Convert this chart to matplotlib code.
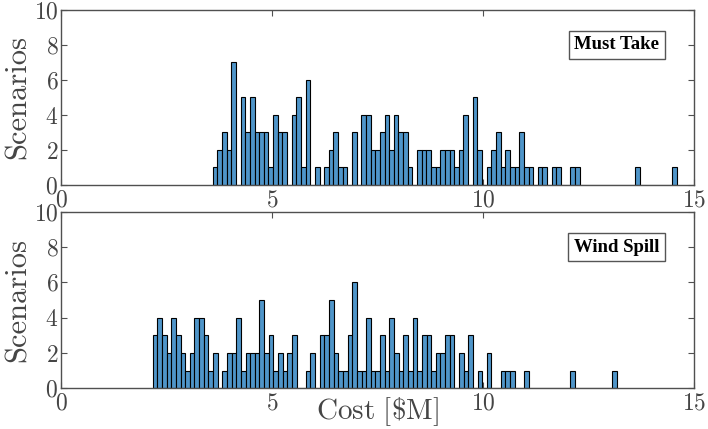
import numpy as np
import matplotlib
matplotlib.use("Agg")
import matplotlib.pyplot as plt

# ---------------- data (bin counts, 100 bins each) ----------------
must_take_range = (3.595, 14.60)
must_take_counts = [1, 2, 3, 2, 7, 0, 5, 3, 5, 3, 3, 3, 1, 4, 3, 3, 0, 4, 5, 1,
                    6, 0, 1, 0, 1, 2, 3, 1, 1, 0, 3, 0, 4, 4,
                    2, 2, 3, 4, 2, 4, 3, 3, 1, 0, 2, 2, 2, 1, 1, 2, 2, 2, 1, 2,
                    4, 0, 5, 2, 0, 1, 2, 3, 1, 2, 1, 1, 3, 1,
                    1, 0, 1, 1, 0, 1, 1, 0, 0, 1, 1,
                    0, 0, 0, 0, 0, 0, 0, 0, 0, 0, 0, 0,
                    1, 0, 0, 0, 0, 0, 0, 0, 1]

wind_spill_range = (2.173, 13.17)
wind_spill_counts = [3, 4, 3, 2, 4, 3, 2, 1, 2, 4, 4, 3, 1, 2, 0, 1, 2, 2, 4, 1,
                     2, 2, 2, 5, 2, 3, 1, 2, 1, 2, 3, 0, 0, 1,
                     2, 0, 3, 3, 5, 2, 1, 1, 3, 6, 1, 1, 4, 1, 1, 3, 1, 4, 2, 1,
                     3, 1, 4, 1, 3, 3, 1, 2, 2, 3, 3, 0, 2, 1, 3,
                     0, 1, 0, 2, 0, 0, 1, 1, 1, 0, 0, 1,
                     0, 0, 0, 0, 0, 0, 0, 0, 0,
                     1, 0, 0, 0, 0, 0, 0, 0, 0, 1]

panel_names = ["Must Take", "Wind Spill"]
x_ticks = [0, 5, 10, 15]
y_ticks = [0, 2, 4, 6, 8, 10]
x_label = r"$\mathrm{Cost\ [\$M]}$"
y_label = "Scenarios"

# ---------------- style ----------------
plt.rcParams['font.family'] = ['cmr10', 'DejaVu Serif']
plt.rcParams['mathtext.fontset'] = 'cm'
plt.rcParams['axes.formatter.use_mathtext'] = True

bar_color = '#4f95c9'
axis_color = '#505050'
text_color = '#454545'

fig = plt.figure(figsize=(7.08, 4.29), dpi=100)
ax_top = fig.add_axes([0.0862, 0.5688, 0.894, 0.408])
ax_bot = fig.add_axes([0.0862, 0.0949, 0.894, 0.4116])

datasets = [(ax_top, must_take_range, must_take_counts),
            (ax_bot, wind_spill_range, wind_spill_counts)]

for i, (ax, rng, counts) in enumerate(datasets):
    counts = np.asarray(counts, dtype=float)
    edges = np.linspace(rng[0], rng[1], len(counts) + 1)
    centers = 0.5 * (edges[:-1] + edges[1:])
    ax.hist(centers, bins=edges, weights=counts, color=bar_color,
            edgecolor='black', linewidth=0.8, zorder=2)
    ax.set_xlim(0, 15)
    ax.set_ylim(0, 10)
    ax.set_xticks(x_ticks)
    ax.set_yticks(y_ticks)
    ax.tick_params(direction='in', top=True, right=True, length=4,
                   width=0.8, color=axis_color, labelcolor=text_color,
                   labelsize=17)
    ax.tick_params(axis='x', pad=3)
    ax.tick_params(axis='y', pad=2)
    for sp in ax.spines.values():
        sp.set_color(axis_color)
        sp.set_linewidth(1.0)
        sp.set_zorder(3)
    ax.set_ylabel(y_label, fontsize=22, color=text_color)
    ax.yaxis.set_label_coords(-0.047, 0.5)
    ax.text(0.878, 0.80, panel_names[i], transform=ax.transAxes,
            ha='center', va='center', fontsize=13.5, fontweight='bold',
            family='Liberation Serif', color='black',
            bbox=dict(boxstyle='square,pad=0.3', facecolor='white',
                      edgecolor='#555555', linewidth=1.0))

ax_bot.set_xlabel(x_label, fontsize=21, color=text_color)
ax_bot.xaxis.set_label_coords(0.5, -0.04)

fig.savefig('out.png', dpi=100)
